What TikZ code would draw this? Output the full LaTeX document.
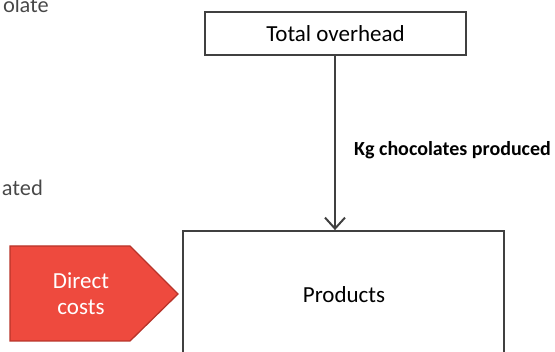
\documentclass[tikz,border=0pt]{standalone}
\usepackage{fontspec}
\setmainfont{Carlito}
\newfontfamily\sidefont{Lato}
\usetikzlibrary{arrows.meta}
\definecolor{linegrey}{HTML}{404040}
\definecolor{sidegrey}{HTML}{474747}
\definecolor{costred}{HTML}{EE4A3E}
\definecolor{costedge}{HTML}{B8342A}
\tikzset{
  box/.style={draw=linegrey, line width=1.8pt, fill=white, inner sep=0pt},
  boxfont/.style={font=\fontsize{23}{27}\selectfont},
  flow/.style={draw=linegrey, line width=2pt, -{Straight Barb[length=11pt,width=20pt,line width=2pt]}},
  sidetext/.style={text=sidegrey, font=\sidefont\fontsize{21}{24}\selectfont, inner sep=0pt},
}
\begin{document}
\begin{tikzpicture}[x=1pt,y=-1pt]
  \useasboundingbox (0,0) rectangle (555,352);
  \clip (0,0) rectangle (555,352);

  % fragments of the running text on the left
  \node[sidetext, anchor=base east] (frag1) at (49,13) {olate};
  \node[sidetext, anchor=base east] (frag2) at (43,196) {ated};

  % overhead pool and cost object
  \node[box, boxfont, minimum width=261pt, minimum height=43pt] (tot) at (335.5,33.5) {Total overhead};
  \node[box, minimum width=321pt, minimum height=140pt] (prod) at (343.5,301) {};
  \node[boxfont, inner sep=0pt] (prodlabel) at (344,295) {Products};

  % allocation along the driver
  \draw[flow] (tot.south -| 335,0) -- (prod.north -| 335,0);
  \node[font=\bfseries\fontsize{20}{24}\selectfont, anchor=base west, inner sep=0pt]
        (driver) at (354,156) {Kg chocolates produced};

  % direct costs traced straight to the products
  \fill[costred, draw=costedge, line width=1.3pt]
    (10,246) -- (130,246) -- (178,294) -- (130,341) -- (10,341) -- cycle;
  \node[text=white, align=center, font=\fontsize{23}{26}\selectfont, inner sep=0pt]
        (directlabel) at (81,294) {Direct\\costs};
\end{tikzpicture}
\end{document}
